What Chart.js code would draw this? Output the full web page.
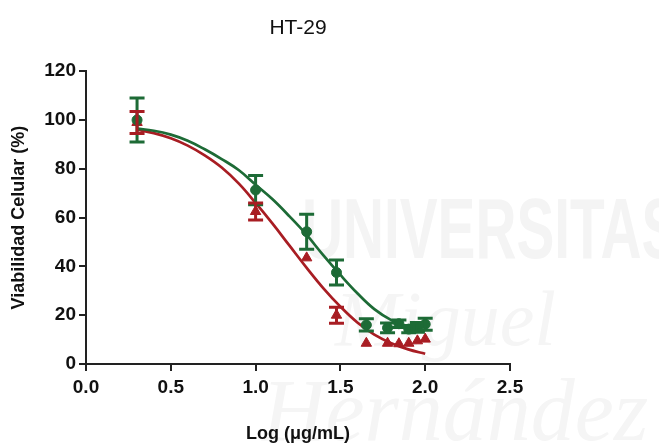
<!DOCTYPE html>
<html>
<head>
<meta charset="utf-8">
<script src="https://cdn.jsdelivr.net/npm/chart.js@4"></script>
<style>
html,body{margin:0;padding:0;background:#fff;}
#wrap{width:659px;height:445px;position:relative;}
</style>
</head>
<body>
<div id="wrap"><canvas id="c" width="659" height="445"></canvas></div>
<script>
// ---- data ----
const titleText = "HT-29";
const xTitle = "Log (\u03bcg/mL)";
const yTitle = "Viabilidad Celular (%)";
const xTicks = [0.0, 0.5, 1.0, 1.5, 2.0, 2.5];
const yTicks = [0, 20, 40, 60, 80, 100, 120];

const doseLog = [0.301, 1.0, 1.301, 1.477, 1.653, 1.778, 1.845, 1.903, 1.954, 2.0];
const greenMean = [100, 71.3, 54.2, 37.5, 16, 14.8, 16.5, 14.3, 15, 16.3];
const greenErr  = [9, 6, 7.2, 5.1, 2.5, 2, 1.5, 1.5, 2, 2.5];
const redMean   = [99, 62.5, 43.5, 20, 8.5, 8.5, 8.3, 8.5, 9.5, 10.2];
const redErr    = [4.5, 3.5, 0, 3.3, 0, 0, 0, 0, 0, 0];

const curveX     = [0.3, 0.4, 0.5, 0.6, 0.7, 0.8, 0.9, 1.0, 1.1, 1.2, 1.3, 1.4, 1.5, 1.6, 1.7, 1.8, 1.9, 2.0];
const greenCurve = [96.5, 95.6, 94, 91.5, 88, 84, 79.5, 73.5, 67.5, 60.5, 53, 44.5, 36.5, 29, 22.5, 18, 15.2, 13.5];
const redCurve   = [96, 94.6, 92.5, 89.5, 85.5, 80.5, 74, 66, 57.5, 48.5, 39.5, 31, 23.5, 17, 12, 8.5, 6, 4.2];

const GREEN = '#1d6b36';
const RED = '#a81d23';

function pts(xs, ys){ return xs.map((x,i)=>({x:x, y:ys[i]})); }

const watermark = {
  id:'watermark',
  beforeDraw(chart){
    const ctx = chart.ctx;
    ctx.save();
    ctx.fillStyle = '#f4f4f4';
    ctx.save();
    ctx.translate(302, 258);
    ctx.scale(0.66, 1);
    ctx.font = 'bold 86px "Liberation Sans", Arial, sans-serif';
    ctx.fillText('UNIVERSITAS', 0, 0);
    ctx.restore();
    ctx.fillStyle = '#f5f5f5';
    ctx.font = 'italic 78px "Liberation Serif", "DejaVu Serif", serif';
    ctx.fillText('Miguel', 335, 345);
    ctx.font = 'italic 88px "Liberation Serif", "DejaVu Serif", serif';
    ctx.fillText('Hern\u00e1ndez', 262, 440);
    ctx.restore();
  }
};

const errorBars = {
  id:'errorBars',
  afterDatasetsDraw(chart){
    const ctx = chart.ctx;
    const xs = chart.scales.x, ys = chart.scales.y;
    const sets = [[greenMean, greenErr, GREEN], [redMean, redErr, RED]];
    ctx.save();
    ctx.lineWidth = 3;
    ctx.lineCap = 'butt';
    sets.forEach(([m, e, col])=>{
      ctx.strokeStyle = col;
      doseLog.forEach((x,i)=>{
        if(!e[i]) return;
        const px = xs.getPixelForValue(x);
        const top = ys.getPixelForValue(m[i]+e[i]);
        const bot = ys.getPixelForValue(m[i]-e[i]);
        ctx.beginPath();
        ctx.moveTo(px, top); ctx.lineTo(px, bot);
        ctx.moveTo(px-7.5, top); ctx.lineTo(px+7.5, top);
        ctx.moveTo(px-7.5, bot); ctx.lineTo(px+7.5, bot);
        ctx.stroke();
      });
    });
    ctx.restore();
  }
};

const tickFont = {family:'"Liberation Sans", Arial, sans-serif', size:19, weight:'bold'};
const titleFont = {family:'"Liberation Sans", Arial, sans-serif', size:18, weight:'bold'};

new Chart(document.getElementById('c'), {
  type:'scatter',
  data:{
    datasets:[
      {type:'line', data:pts(curveX, redCurve), borderColor:RED, borderWidth:2.7, pointRadius:0, tension:0.4, fill:false, order:4},
      {type:'line', data:pts(curveX, greenCurve), borderColor:GREEN, borderWidth:2.7, pointRadius:0, tension:0.4, fill:false, order:3},
      {data:pts(doseLog, redMean), pointStyle:'triangle', pointRadius:6, backgroundColor:RED, borderColor:RED, borderWidth:1, order:2},
      {data:pts(doseLog, greenMean), pointStyle:'circle', pointRadius:5, backgroundColor:GREEN, borderColor:GREEN, borderWidth:1, order:1}
    ]
  },
  options:{
    responsive:false,
    animation:false,
    layout:{padding:{left:8, right:149, top:0, bottom:0}},
    plugins:{
      legend:{display:false},
      tooltip:{enabled:false},
      title:{display:true, text:titleText, fullSize:false, color:'#111',
        font:{family:'"Liberation Sans", Arial, sans-serif', size:21, weight:'normal'},
        padding:{top:16, bottom:30}}
    },
    scales:{
      x:{type:'linear', min:0, max:2.5,
        afterBuildTicks(s){ s.ticks = xTicks.map(v=>({value:v})); },
        afterFit(s){ s.height = 81; },
        ticks:{color:'#111', font:tickFont, padding:5, maxRotation:0, callback:v=>Number(v).toFixed(1)},
        grid:{drawOnChartArea:false, drawTicks:true, tickLength:7, color:'#222', lineWidth:2},
        border:{display:true, color:'#222', width:2},
        title:{display:true, text:xTitle, color:'#111', font:titleFont, padding:{top:14, bottom:0}}
      },
      y:{type:'linear', min:0, max:120,
        afterBuildTicks(s){ s.ticks = yTicks.map(v=>({value:v})); },
        afterFit(s){ s.width = 78; },
        ticks:{color:'#111', font:tickFont, padding:3},
        grid:{drawOnChartArea:false, drawTicks:true, tickLength:7, color:'#222', lineWidth:2},
        border:{display:true, color:'#222', width:2},
        title:{display:true, text:yTitle, color:'#111', font:titleFont, padding:{top:0, bottom:4}}
      }
    }
  },
  plugins:[watermark, errorBars]
});
</script>
</body>
</html>
